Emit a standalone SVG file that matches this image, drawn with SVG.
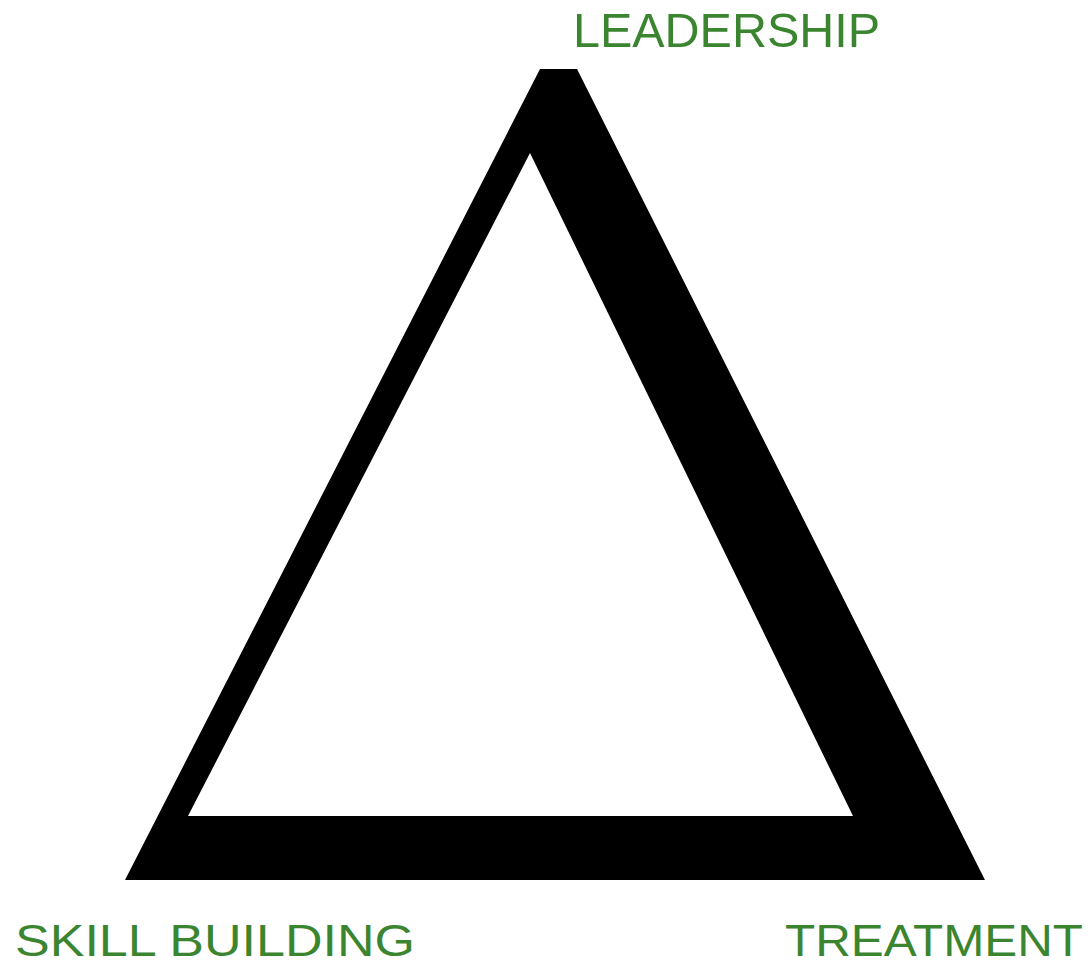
<svg xmlns="http://www.w3.org/2000/svg" width="1090" height="966" viewBox="0 0 1090 966">
<style>
.lbl{font-family:"Liberation Sans","DejaVu Sans",sans-serif;fill:#3b8530;font-size:48px;}
.low{font-size:44px;}
</style>
<rect width="1090" height="966" fill="#ffffff"/>
<g id="triangle">
<path d="M540,69 L577,69 L985,880 L125,880 Z M530,153 L188,816 L853,816 Z" fill="#000" fill-rule="evenodd"/>
</g>
<g id="leadership"><text class="lbl" x="573" y="47" textLength="307" lengthAdjust="spacingAndGlyphs">LEADERSHIP</text></g>
<g id="skill-building"><text class="lbl low" x="15" y="956" textLength="400" lengthAdjust="spacingAndGlyphs">SKILL BUILDING</text></g>
<g id="treatment"><text class="lbl low" x="785" y="956" textLength="298" lengthAdjust="spacingAndGlyphs">TREATMENT</text></g>
<g id="connectors"></g>
</svg>
